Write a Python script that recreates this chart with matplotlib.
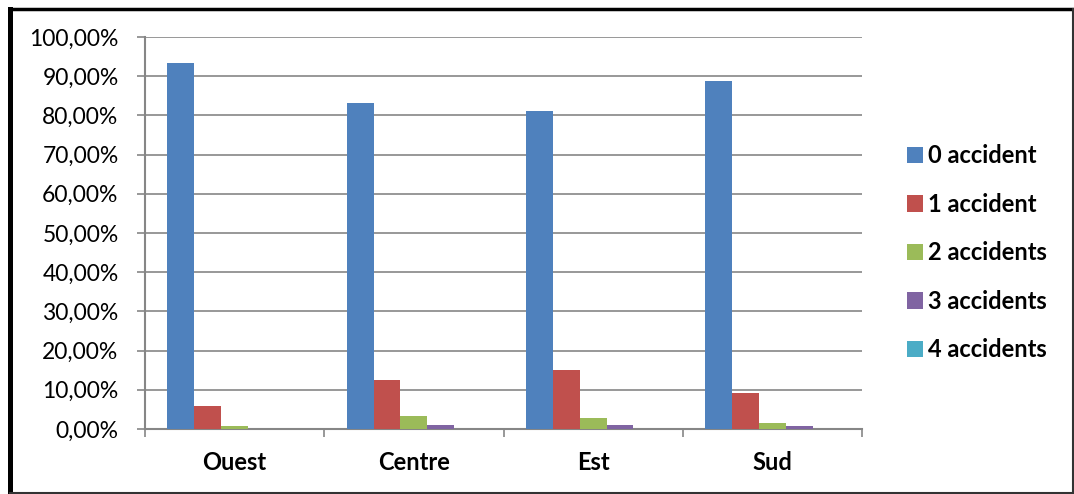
import matplotlib
matplotlib.use("Agg")
import matplotlib.pyplot as plt
import numpy as np
from matplotlib.lines import Line2D

categories = ["Ouest", "Centre", "Est", "Sud"]
series_names = ["0 accident", "1 accident", "2 accidents", "3 accidents", "4 accidents"]
s0 = [93.3, 83.2, 81.1, 88.8]
s1 = [5.9, 12.5, 15.0, 9.1]
s2 = [0.8, 3.3, 2.8, 1.5]
s3 = [0.0, 0.9, 1.0, 0.7]
s4 = [0.0, 0.0, 0.0, 0.0]
colors = ["#4F81BD", "#C0504D", "#9BBB59", "#8064A2", "#4BACC6"]
yticks = list(range(0, 101, 10))

plt.rcParams['font.family'] = ['Lato', 'DejaVu Sans']

W, H = 1074, 494
fig = plt.figure(figsize=(W/100, H/100), dpi=100)
ax = fig.add_axes([145/W, 1-429/H, (862-145)/W, (429-37)/H])

x = np.arange(len(categories))
bw = 0.15
data = [s0, s1, s2, s3, s4]
for i, (vals, name, c) in enumerate(zip(data, series_names, colors)):
    ax.bar(x - 0.3 + i*bw, vals, width=bw, color=c, label=name, zorder=3)

ax.set_xlim(-0.5, len(categories) - 0.5)
ax.set_ylim(0, 100)
ax.set_yticks(yticks)
ax.set_yticklabels([f"{v},00%" for v in yticks], fontsize=16.5)
ax.yaxis.grid(True, color="#868686", linewidth=1.2, zorder=0)
ax.set_xticks(x)
ax.set_xticklabels(categories, fontsize=17, fontweight='bold')
ax.tick_params(axis='x', length=0, pad=16)
ax.set_xticks(np.arange(-0.5, len(categories)), minor=True)
ax.tick_params(axis='x', which='minor', length=6, color="#868686", width=1.2)
ax.tick_params(axis='y', length=6, color="#868686", width=1.2, pad=13)
for s in ["top", "right"]:
    ax.spines[s].set_visible(False)
for s in ["left", "bottom"]:
    ax.spines[s].set_color("#868686")
    ax.spines[s].set_linewidth(1.5)

leg = fig.legend(loc="upper left", bbox_to_anchor=(886/W, 1-123/H), frameon=False,
                 prop={'size': 17, 'weight': 'bold'}, handlelength=0.68, handleheight=0.68,
                 handletextpad=0.22, labelspacing=1.08)

def fline(x0, y0, x1, y1, lw, c):
    fig.add_artist(Line2D([x0/W, x1/W], [1-y0/H, 1-y1/H], transform=fig.transFigure,
                          color=c, linewidth=lw, solid_capstyle='projecting'))

fline(10, 9, 1073, 9, 2.5, "black")
fline(10, 9, 10, 493, 3.6, "black")
fline(1073, 9, 1073, 493, 1.5, "#333333")
fline(10, 493, 1073, 493, 1.5, "#333333")

fig.savefig("out.png", dpi=100)
